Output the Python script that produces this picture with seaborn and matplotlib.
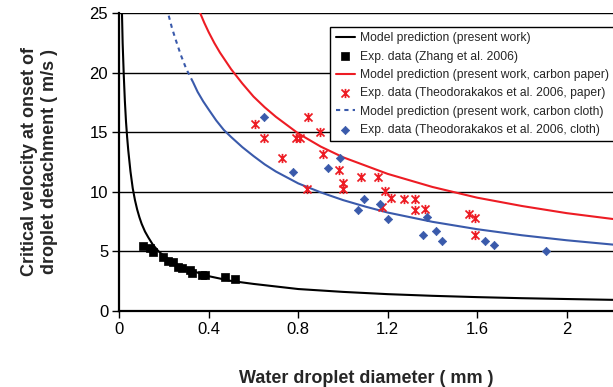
import numpy as np
import seaborn as sns
from matplotlib import pyplot as plt
from matplotlib.path import Path

# model curve, present work (black)
model_d = [0.012, 0.015, 0.02, 0.025, 0.03, 0.035, 0.04, 0.05, 0.06, 0.07, 0.08, 0.09,
           0.1, 0.115, 0.13, 0.15, 0.175, 0.2, 0.25, 0.3, 0.4, 0.5, 0.6, 0.8, 1.0, 1.2,
           1.4, 1.6, 1.8, 2.0, 2.21]
model_v = [25.0, 22.5, 19.8, 17.6, 15.9, 14.6, 13.5, 11.7, 10.3, 9.3, 8.5, 7.85,
           7.3, 6.65, 6.15, 5.55, 5.0, 4.6, 3.95, 3.5, 2.9, 2.5, 2.25, 1.82, 1.58, 1.39,
           1.25, 1.14, 1.05, 0.98, 0.91]

# Zhang et al. 2006
zhang_d = [0.108, 0.137, 0.149, 0.197, 0.219, 0.241, 0.264, 0.279, 0.316, 0.324,
           0.368, 0.383, 0.472, 0.517]
zhang_v = [5.45, 5.25, 4.9, 4.55, 4.2, 4.1, 3.7, 3.6, 3.4, 3.15, 3.0, 3.0, 2.8, 2.65]

# model, carbon paper (red)
paper_model_d = [0.362, 0.38, 0.4, 0.425, 0.45, 0.5, 0.55, 0.6, 0.65, 0.7, 0.75, 0.8,
                 0.9, 1.0, 1.1, 1.2, 1.4, 1.6, 1.8, 2.0, 2.21]
paper_model_v = [25.0, 24.2, 23.4, 22.5, 21.7, 20.3, 19.1, 18.0, 17.1, 16.3, 15.6,
                 14.9, 13.8, 12.9, 12.2, 11.5, 10.4, 9.5, 8.8, 8.2, 7.7]

# Theodorakakos et al. 2006, paper
paper_d = [0.607, 0.648, 0.726, 0.788, 0.81, 0.838, 0.844, 0.898, 0.909, 0.98, 1.0,
           1.0, 1.08, 1.158, 1.19, 1.215, 1.173, 1.273, 1.323, 1.323, 1.365, 1.563,
           1.589, 1.589]
paper_v = [15.7, 14.5, 12.8, 14.5, 14.5, 10.2, 16.3, 15.0, 13.2, 11.8, 10.7, 10.2,
           11.2, 11.2, 10.1, 9.5, 8.7, 9.4, 9.35, 8.5, 8.55, 8.1, 7.8, 6.4]

# model, carbon cloth (blue): dashed part then solid part
cloth_model_dash_d = [0.221, 0.235, 0.25, 0.275, 0.3, 0.33]
cloth_model_dash_v = [24.8, 23.8, 22.9, 21.5, 20.3, 19.2]
cloth_model_d = [0.33, 0.35, 0.375, 0.4, 0.433, 0.467, 0.5, 0.55, 0.6, 0.65, 0.7,
                 0.8, 0.9, 1.0, 1.1, 1.2, 1.4, 1.6, 1.8, 2.0, 2.21]
cloth_model_v = [19.2, 18.4, 17.6, 16.9, 16.0, 15.2, 14.6, 13.75, 13.0, 12.3, 11.7,
                 10.7, 9.95, 9.3, 8.75, 8.25, 7.47, 6.85, 6.34, 5.92, 5.55]

# Theodorakakos et al. 2006, cloth
cloth_d = [0.645, 0.778, 0.934, 0.987, 1.065, 1.095, 1.167, 1.203, 1.356, 1.376,
           1.416, 1.444, 1.635, 1.675, 1.906]
cloth_v = [16.3, 11.7, 12.0, 12.8, 8.45, 9.35, 9.0, 7.7, 6.35, 7.9, 6.7, 5.85, 5.85,
           5.5, 5.05]

x_ticks = [0, 0.4, 0.8, 1.2, 1.6, 2.0]
x_tick_labels = ['0', '0.4', '0.8', '1.2', '1.6', '2']
y_ticks = [0, 5, 10, 15, 20, 25]

RED = '#ed1c24'
BLUE = '#3a5aab'

sns.set_style('ticks')
plt.rcParams['font.family'] = ['Liberation Sans', 'DejaVu Sans']

fig = plt.figure(figsize=(6.13, 3.87), dpi=100)
ax = fig.add_axes([0.1946, 0.1972, 0.8054, 0.7684])

# asterisk marker like Excel's: an X with a vertical bar
asterisk = Path([(-1, -1), (1, 1), (-1, 1), (1, -1), (0, -1.15), (0, 1.15)],
                [Path.MOVETO, Path.LINETO, Path.MOVETO, Path.LINETO, Path.MOVETO, Path.LINETO])

sns.lineplot(x=model_d, y=model_v, sort=False, estimator=None, color='black', lw=1.5,
             ax=ax, label='Model prediction (present work)')
sns.scatterplot(x=zhang_d, y=zhang_v, marker='s', s=40, color='black', edgecolor='black',
                linewidth=0.5, ax=ax, zorder=4, label='Exp. data (Zhang et al. 2006)')
sns.lineplot(x=paper_model_d, y=paper_model_v, sort=False, estimator=None, color=RED,
             lw=1.5, ax=ax, label='Model prediction (present work, carbon paper)')
sns.scatterplot(x=paper_d, y=paper_v, marker=asterisk, s=44, color=RED, edgecolor=RED,
                linewidth=1.25, ax=ax, zorder=4,
                label='Exp. data (Theodorakakos et al. 2006, paper)')
sns.lineplot(x=cloth_model_dash_d, y=cloth_model_dash_v, sort=False, estimator=None,
             color=BLUE, lw=1.5, linestyle=(0, (2, 2)), ax=ax,
             label='Model prediction (present work, carbon cloth)')
sns.scatterplot(x=cloth_d, y=cloth_v, marker='D', s=18, color=BLUE, edgecolor=BLUE,
                linewidth=0.5, ax=ax, zorder=4,
                label='Exp. data (Theodorakakos et al. 2006, cloth)')
sns.lineplot(x=cloth_model_d, y=cloth_model_v, sort=False, estimator=None, color=BLUE,
             lw=1.5, ax=ax, legend=False)

ax.set_xlim(0, 2.207)
ax.set_ylim(0, 25)
ax.set_xticks(x_ticks)
ax.set_xticklabels(x_tick_labels)
ax.set_yticks(y_ticks)
ax.tick_params(labelsize=12, length=5, width=1, pad=3, colors='black')
ax.yaxis.grid(True, color='black', lw=1.0)
ax.set_axisbelow(True)
sns.despine(ax=ax, top=True, right=True)
for s in ['left', 'bottom']:
    ax.spines[s].set_linewidth(1.6)
    ax.spines[s].set_color('black')

ax.set_ylabel('Critical velocity at onset of\ndroplet detachment ( m/s )',
              fontsize=13, fontweight='bold', linespacing=1.2)
ax.yaxis.set_label_coords(-0.124, 0.5)
ax.set_xlabel('Water droplet diameter ( mm )', fontsize=13, fontweight='bold')
ax.xaxis.set_label_coords(0.5, -0.2)

handles, labels = ax.get_legend_handles_labels()
leg = ax.legend(handles, labels, loc='upper left', bbox_to_anchor=(330 / 613, 1 - 26.7 / 387),
                bbox_transform=fig.transFigure, fontsize=8.75, frameon=True, fancybox=False,
                framealpha=1, edgecolor='black', handlelength=1.6, handletextpad=0.4,
                labelspacing=0.52, borderpad=0.46, borderaxespad=0)
leg.get_frame().set_linewidth(1.0)

fig.savefig('out.png', dpi=100)
